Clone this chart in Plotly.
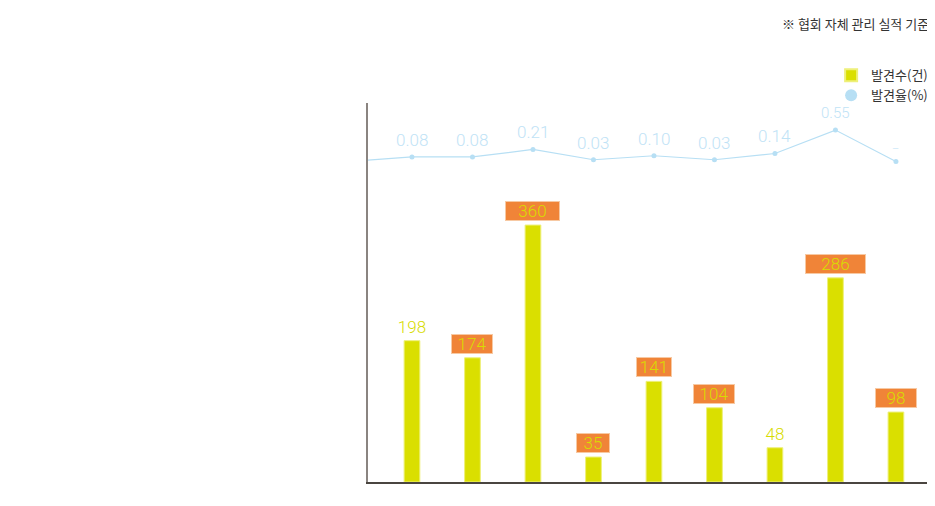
import plotly.graph_objects as go

# ---- data ----
categories = ["이전", "1", "2", "3", "4", "5", "6", "7", "8", "9"]
count_values = [198, 174, 360, 35, 141, 104, 48, 286, 98]          # 발견수(건)
rate_values = [0, 0.08, 0.08, 0.21, 0.03, 0.10, 0.03, 0.14, 0.55, 0]  # 발견율(%) ("이전" and last = –)
rate_labels = ["", "0.08", "0.08", "0.21", "0.03", "0.10", "0.03", "0.14", "0.55", "–"]
count_labels = ["198", "174", "360", "35", "141", "104", "48", "286", "98"]
boxed = [False, True, True, True, True, True, False, True, True]

# ---- styles ----
box_widths = [40, 40, 53, 32, 34, 40, 32, 59, 40]
rate_label_sizes = [17, 17, 17, 17, 17, 17, 17, 17, 15, 11]
BAR = "#dadf00"
LINE = "#b7dff4"
RATE_TXT = "#bfe3f6"
ORANGE = "#f08438"

bar_cats = categories[1:]

fig = go.Figure()
fig.add_trace(go.Bar(
    x=bar_cats, y=count_values, name="발견수(건)",
    marker=dict(color=BAR, line=dict(color="#eef07a", width=1)),
    width=0.26, yaxis="y", showlegend=True,
    hoverinfo="x+y",
))
fig.add_trace(go.Scatter(
    x=categories, y=rate_values, mode="lines", yaxis="y2",
    line=dict(color=LINE, width=1.2), showlegend=False, hoverinfo="skip",
))
fig.add_trace(go.Scatter(
    x=categories[1:], y=rate_values[1:], mode="markers", yaxis="y2",
    name="발견율(%)", marker=dict(color=LINE, size=5),
))

annotations = []
for c, v, lab, bx, w in zip(bar_cats, count_values, count_labels, boxed, box_widths):
    annotations.append(dict(
        x=c, y=v, xref="x", yref="y", text=lab, showarrow=False,
        yanchor="middle", yshift=14, width=w, height=18,
        bgcolor=ORANGE if bx else "rgba(0,0,0,0)",
        bordercolor="#f7c9a3" if bx else "rgba(0,0,0,0)", borderwidth=1, borderpad=0,
        font=dict(family="Roboto", size=17, color="#d8dc00", weight=300),
    ))
for c, v, lab, s in zip(categories[1:], rate_values[1:], rate_labels[1:], rate_label_sizes[1:]):
    annotations.append(dict(
        x=c, y=v, xref="x", yref="y2", text=lab, showarrow=False,
        yanchor="middle", yshift=17 if lab != "–" else 12,
        font=dict(family="Roboto", size=s, color=RATE_TXT, weight=300),
    ))
annotations.append(dict(
    x=1.0054, y=1.2085, xref="paper", yref="paper", text="※ 협회 자체 관리 실적 기준",
    showarrow=False, xanchor="right", yanchor="middle",
    font=dict(family="Noto Sans CJK KR", size=13, color="#333333"),
))

fig.update_layout(
    width=927, height=498,
    margin=dict(l=360, r=7, t=95, b=24, autoexpand=False),
    paper_bgcolor="white", plot_bgcolor="white",
    font=dict(family="Noto Sans CJK KR", color="#333333"),
    xaxis=dict(type="category", categoryorder="array", categoryarray=categories,
               range=[0.273, 9.53], showticklabels=False, ticks="", showgrid=False,
               zeroline=False, showline=True, linecolor="#4a4540", linewidth=1.5),
    yaxis=dict(range=[0, 531], showticklabels=False, ticks="", showgrid=False,
               zeroline=False, showline=True, linecolor="#8a8480", linewidth=2),
    yaxis2=dict(range=[-5.62, 1.025], overlaying="y", showticklabels=False, ticks="",
                showgrid=False, zeroline=False, showline=False),
    legend=dict(x=0.827, y=1.1126, xanchor="left", yanchor="top",
                font=dict(family="Noto Sans CJK KR", size=13, color="#333333"),
                bgcolor="rgba(0,0,0,0)", itemsizing="constant", tracegroupgap=0),
    annotations=annotations,
    showlegend=True,
)

fig.write_html("out.html")
